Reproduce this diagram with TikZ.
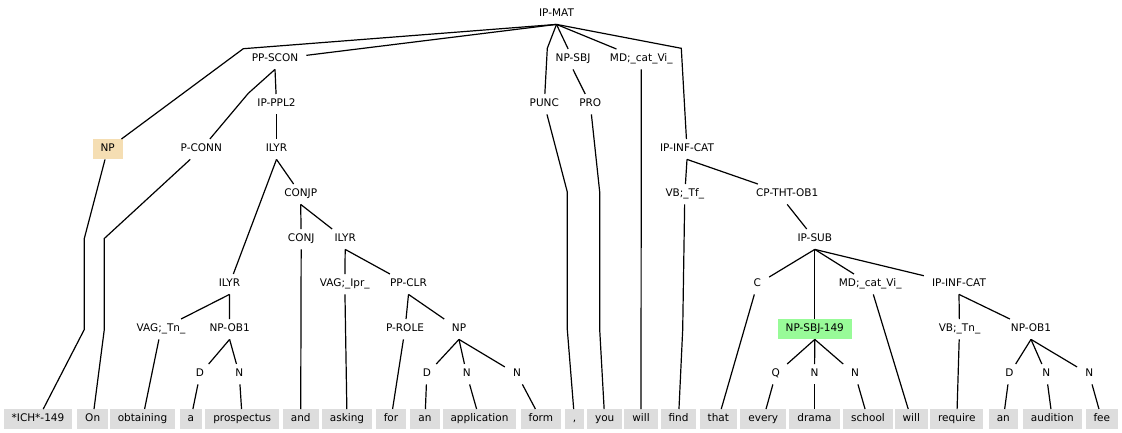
\documentclass[tikz,border=0pt]{standalone}
\usepackage{fontspec}
\setmainfont{DejaVu Sans}
\definecolor{leafgray}{HTML}{DDDDDD}
\definecolor{npfill}{HTML}{F5DEB3}
\definecolor{greenfill}{HTML}{98FB98}
\begin{document}
\begin{tikzpicture}[x=1pt,y=-1pt,
  lab/.style={font=\fontsize{10.5}{12}\selectfont, inner xsep=8pt, inner ysep=4.75pt, text height=8pt, text depth=2.5pt},
  leafbox/.style={lab, fill=leafgray},
  tie/.style={draw=black, line width=1.2pt}]
\useasboundingbox (0,0) rectangle (1122,432);
% row 1
\node[lab] (ipmat) at (556.5,14.2) {IP-MAT};
% row 2
\node[lab] (ppscon) at (275,59.2) {PP-SCON};
\node[lab] (npsbj) at (573,59.2) {NP-SBJ};
\node[lab] (mdA) at (641.3,59.2) {MD;\_cat\_Vi\_};
% row 3
\node[lab] (ipppl) at (276.5,104.2) {IP-PPL2};
\node[lab] (punc) at (544.3,104.2) {PUNC};
\node[lab] (pro) at (590.3,104.2) {PRO};
% row 4
\node[lab, fill=npfill] (npA) at (107.7,149.2) {NP};
\node[lab] (pconn) at (201.3,149.2) {P-CONN};
\node[lab] (ilyrA) at (276.5,149.2) {ILYR};
\node[lab] (ipinfA) at (687,149.2) {IP-INF-CAT};
% row 5
\node[lab] (conjp) at (300.7,194.2) {CONJP};
\node[lab] (vbtf) at (684.8,194.2) {VB;\_Tf\_};
\node[lab] (cptht) at (787.2,194.2) {CP-THT-OB1};
% row 6
\node[lab] (conj) at (301.2,239.2) {CONJ};
\node[lab] (ilyrB) at (345.2,239.2) {ILYR};
\node[lab] (ipsub) at (814.8,239.2) {IP-SUB};
% row 7
\node[lab] (ilyrC) at (229.5,284.2) {ILYR};
\node[lab] (vagipr) at (344.8,284.2) {VAG;\_Ipr\_};
\node[lab] (ppclr) at (408.5,284.2) {PP-CLR};
\node[lab] (cA) at (757.3,284.2) {C};
\node[lab] (mdB) at (870.2,284.2) {MD;\_cat\_Vi\_};
\node[lab] (ipinfB) at (959,284.2) {IP-INF-CAT};
% row 8
\node[lab] (vagtn) at (161,329.2) {VAG;\_Tn\_};
\node[lab] (npobA) at (229.6,329.2) {NP-OB1};
\node[lab] (prole) at (405,329.2) {P-ROLE};
\node[lab] (npB) at (459,329.2) {NP};
\node[lab, fill=greenfill] (npsbjB) at (814.8,329.2) {NP-SBJ-149};
\node[lab] (vbtn) at (959.5,329.2) {VB;\_Tn\_};
\node[lab] (npobB) at (1031,329.2) {NP-OB1};
% row 9
\node[lab] (dA) at (200,374.2) {D};
\node[lab] (nA) at (239.3,374.2) {N};
\node[lab] (dB) at (426.8,374.2) {D};
\node[lab] (nB) at (466.7,374.2) {N};
\node[lab] (nC) at (517,374.2) {N};
\node[lab] (qA) at (775.7,374.2) {Q};
\node[lab] (nD) at (814.5,374.2) {N};
\node[lab] (nE) at (855,374.2) {N};
\node[lab] (dC) at (1009.3,374.2) {D};
\node[lab] (nF) at (1046.3,374.2) {N};
\node[lab] (nG) at (1089.2,374.2) {N};
% leaves
\node[leafbox] (w1) at (38,419.2) {*ICH*-149};
\node[leafbox] (w2) at (92.7,419.2) {On};
\node[leafbox] (w3) at (142.5,419.2) {obtaining};
\node[leafbox] (w4) at (190.8,419.2) {a};
\node[leafbox] (w5) at (242.2,419.2) {prospectus};
\node[leafbox] (w6) at (300.7,419.2) {and};
\node[leafbox] (w7) at (347,419.2) {asking};
\node[leafbox] (w8) at (391,419.2) {for};
\node[leafbox] (w9) at (425,419.2) {an};
\node[leafbox] (w10) at (479.5,419.2) {application};
\node[leafbox] (w11) at (540.8,419.2) {form};
\node[leafbox] (w12) at (574.5,419.2) {,};
\node[leafbox] (w13) at (604.7,419.2) {you};
\node[leafbox] (w14) at (641,419.2) {will};
\node[leafbox] (w15) at (678.5,419.2) {find};
\node[leafbox] (w16) at (718.3,419.2) {that};
\node[leafbox] (w17) at (763.2,419.2) {every};
\node[leafbox] (w18) at (814.5,419.2) {drama};
\node[leafbox] (w19) at (868,419.2) {school};
\node[leafbox] (w20) at (911.3,419.2) {will};
\node[leafbox] (w21) at (956.8,419.2) {require};
\node[leafbox] (w22) at (1003.3,419.2) {an};
\node[leafbox] (w23) at (1052.3,419.2) {audition};
\node[leafbox] (w24) at (1101.8,419.2) {fee};
% internal edges
\draw[tie] (ipmat.south) -- (243.3,48.7) -- (npA);
\draw[tie] (ipmat.south) -- (ppscon);
\draw[tie] (ipmat.south) -- (547.3,48.3) -- (punc);
\draw[tie] (ipmat.south) -- (npsbj);
\draw[tie] (ipmat.south) -- (mdA);
\draw[tie] (ipmat.south) -- (681.3,48.3) -- (ipinfA);
\draw[tie] (ppscon.south) -- (248.3,93.3) -- (pconn);
\draw[tie] (ppscon.south) -- (ipppl);
\draw[tie] (ipppl.south) -- (ilyrA);
\draw[tie] (ilyrA.south) -- (ilyrC);
\draw[tie] (ilyrA.south) -- (conjp);
\draw[tie] (conjp.south) -- (conj);
\draw[tie] (conjp.south) -- (ilyrB);
\draw[tie] (ilyrB.south) -- (vagipr);
\draw[tie] (ilyrB.south) -- (ppclr);
\draw[tie] (ilyrC.south) -- (vagtn);
\draw[tie] (ilyrC.south) -- (npobA);
\draw[tie] (npobA.south) -- (dA);
\draw[tie] (npobA.south) -- (nA);
\draw[tie] (ppclr.south) -- (prole);
\draw[tie] (ppclr.south) -- (npB);
\draw[tie] (npB.south) -- (dB);
\draw[tie] (npB.south) -- (nB);
\draw[tie] (npB.south) -- (nC);
\draw[tie] (npsbj.south) -- (pro);
\draw[tie] (ipinfA.south) -- (vbtf);
\draw[tie] (ipinfA.south) -- (cptht);
\draw[tie] (cptht.south) -- (ipsub);
\draw[tie] (ipsub.south) -- (cA);
\draw[tie] (ipsub.south) -- (npsbjB);
\draw[tie] (ipsub.south) -- (mdB);
\draw[tie] (ipsub.south) -- (ipinfB);
\draw[tie] (ipinfB.south) -- (vbtn);
\draw[tie] (ipinfB.south) -- (npobB);
\draw[tie] (npobB.south) -- (dC);
\draw[tie] (npobB.south) -- (nF);
\draw[tie] (npobB.south) -- (nG);
\draw[tie] (npsbjB.south) -- (qA);
\draw[tie] (npsbjB.south) -- (nD);
\draw[tie] (npsbjB.south) -- (nE);
% leaf edges
\draw[tie] (npA) -- (84.3,238.5) -- (84.3,329.5) -- (w1);
\draw[tie] (pconn) -- (104.3,238.5) -- (104.3,329.5) -- (w2);
\draw[tie] (vagtn) -- (w3);
\draw[tie] (dA) -- (w4);
\draw[tie] (nA) -- (w5);
\draw[tie] (conj) -- (w6);
\draw[tie] (vagipr) -- (w7);
\draw[tie] (prole) -- (w8);
\draw[tie] (dB) -- (w9);
\draw[tie] (nB) -- (w10);
\draw[tie] (nC) -- (w11);
\draw[tie] (punc) -- (567.3,192) -- (567.3,329.5) -- (w12);
\draw[tie] (pro) -- (599.7,192) -- (599.7,329.5) -- (w13);
\draw[tie] (mdA) -- (w14);
\draw[tie] (vbtf) -- (682.7,329.5) -- (w15);
\draw[tie] (cA) -- (w16);
\draw[tie] (qA) -- (w17);
\draw[tie] (nD) -- (w18);
\draw[tie] (nE) -- (w19);
\draw[tie] (mdB) -- (w20);
\draw[tie] (vbtn) -- (w21);
\draw[tie] (dC) -- (w22);
\draw[tie] (nF) -- (w23);
\draw[tie] (nG) -- (w24);
\end{tikzpicture}
\end{document}
